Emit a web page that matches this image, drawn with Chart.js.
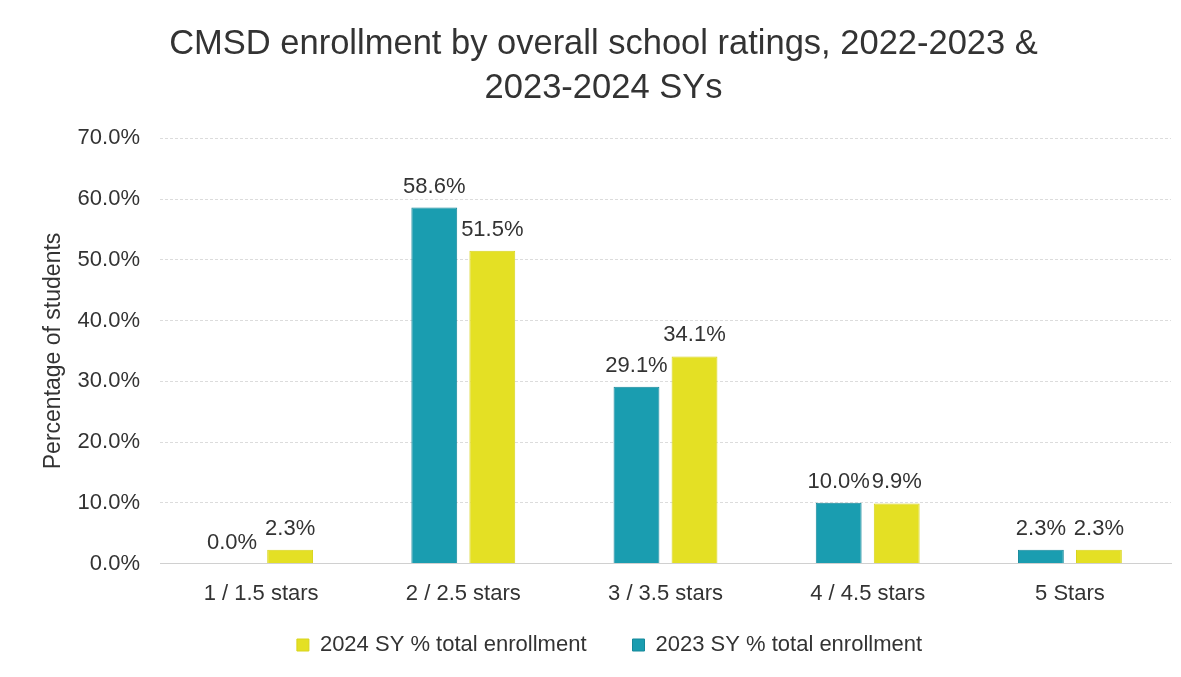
<!DOCTYPE html>
<html>
<head>
<meta charset="utf-8">
<script src="https://cdn.jsdelivr.net/npm/chart.js@4"></script>
<style>
  html, body { margin: 0; padding: 0; background: #fff; }
  #wrap { width: 1181px; height: 677px; }
</style>
</head>
<body>
<div id="wrap"><canvas id="ratingsChart"></canvas></div>
<script>
const categories = ['1 / 1.5 stars', '2 / 2.5 stars', '3 / 3.5 stars', '4 / 4.5 stars', '5 Stars'];
const sy2023 = [0.0, 58.6, 29.1, 10.0, 2.3];
const sy2024 = [2.3, 51.5, 34.1, 9.9, 2.3];
const yTicks = [0, 10, 20, 30, 40, 50, 60, 70];

const FONT = '"Liberation Sans", Arial, sans-serif';
const TEXT = '#333333';

// draws the value above each bar (no datalabels plugin available)
const barLabels = {
    id: 'barLabels',
    afterDatasetsDraw(chart) {
        const ctx = chart.ctx;
        ctx.save();
        ctx.font = '22px ' + FONT;
        ctx.fillStyle = TEXT;
        ctx.textAlign = 'center';
        ctx.textBaseline = 'alphabetic';
        chart.data.datasets.forEach((ds, i) => {
            chart.getDatasetMeta(i).data.forEach((bar, j) => {
                ctx.fillText(ds.data[j].toFixed(1) + '%', bar.x, bar.y - 15);
            });
        });
        ctx.restore();
    }
};

// pull the legend up a bit so it sits closer under the axis labels
const legendNudge = {
    id: 'legendNudge',
    afterLayout(chart) {
        const lg = chart.legend;
        lg.top -= 36; lg.bottom -= 36;
        lg.left += 6; lg.right += 6;
    }
};

new Chart(document.getElementById('ratingsChart'), {
    type: 'bar',
    data: {
        labels: categories,
        datasets: [
            {
                label: '2023 SY % total enrollment',
                data: sy2023,
                backgroundColor: '#1a9db0',
                borderColor: '#15889a',
                borderWidth: 1
            },
            {
                label: '2024 SY % total enrollment',
                data: sy2024,
                backgroundColor: '#e4e024',
                borderColor: '#d8d41c',
                borderWidth: 1
            }
        ]
    },
    options: {
        responsive: true,
        maintainAspectRatio: false,
        animation: false,
        datasets: {
            bar: { categoryPercentage: 0.574, barPercentage: 0.79 }
        },
        layout: { padding: { left: 36, right: 10, top: 8, bottom: -25 } },
        plugins: {
            title: {
                display: true,
                text: ['CMSD enrollment by overall school ratings, 2022-2023 &', '2023-2024 SYs'],
                color: TEXT,
                font: { family: FONT, size: 34.5, weight: 'normal', lineHeight: 1.28 },
                padding: { top: 14, bottom: 28 }
            },
            legend: {
                position: 'bottom',
                reverse: true,
                labels: {
                    color: TEXT,
                    font: { family: FONT, size: 22 },
                    boxWidth: 12,
                    boxHeight: 12,
                    padding: 46
                }
            },
            tooltip: { enabled: false }
        },
        scales: {
            x: {
                grid: { display: false, drawTicks: false },
                border: { color: '#d0d0d0' },
                ticks: { color: TEXT, font: { family: FONT, size: 22 }, padding: 17 }
            },
            y: {
                min: 0,
                max: 70,
                afterBuildTicks: scale => { scale.ticks = yTicks.map(v => ({ value: v })); },
                afterFit: scale => { scale.width = 124; },
                grid: { color: '#dcdcdc', drawTicks: false },
                border: { display: false, dash: [3, 2] },
                ticks: {
                    color: TEXT,
                    font: { family: FONT, size: 22 },
                    padding: 20,
                    callback: v => v.toFixed(1) + '%'
                },
                title: {
                    display: true,
                    text: 'Percentage of students',
                    color: TEXT,
                    font: { family: FONT, size: 23 }
                }
            }
        }
    },
    plugins: [barLabels, legendNudge]
});
</script>
</body>
</html>
